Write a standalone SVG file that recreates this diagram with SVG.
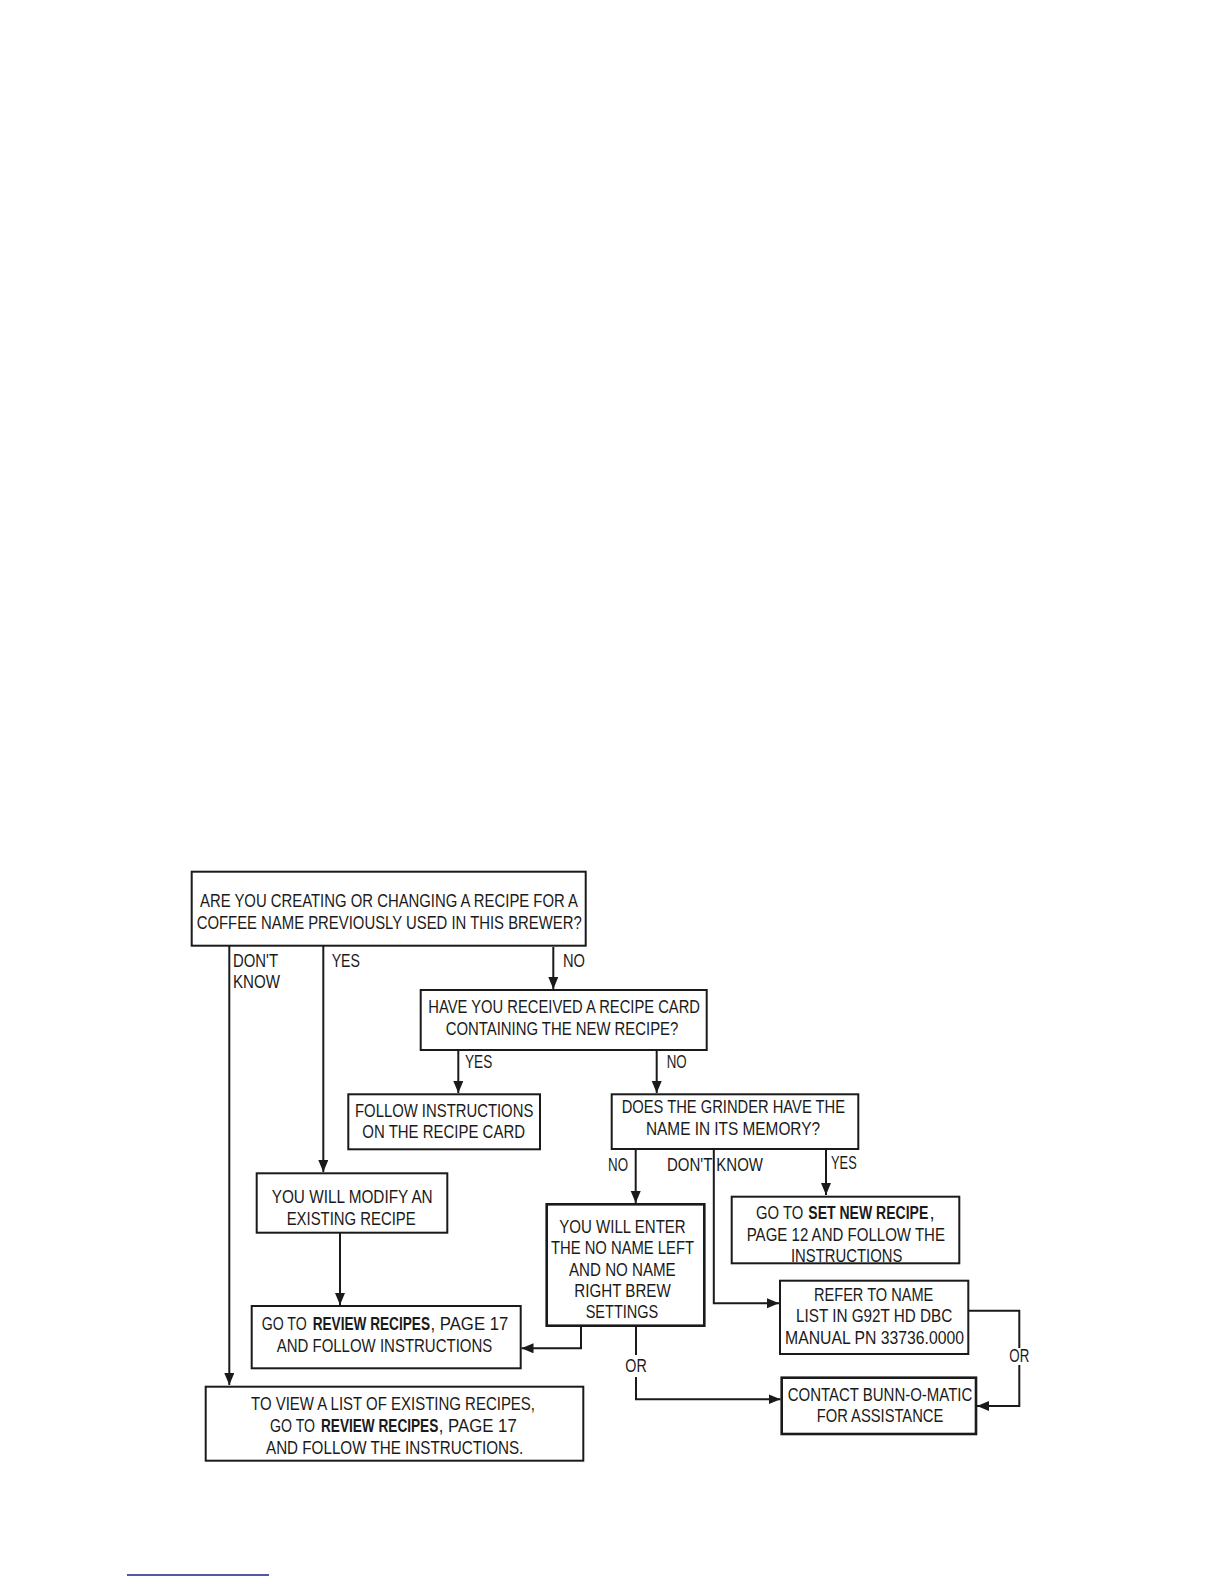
<svg xmlns="http://www.w3.org/2000/svg" width="1224" height="1584" viewBox="0 0 1224 1584">
<style>
text{font-family:"Liberation Sans Narrow","Liberation Sans",Arial,sans-serif;font-size:18.5px;fill:#1a1a1a}
.b{font-weight:bold}
.box{fill:#fff;stroke:#1a1a1a;stroke-width:2}
.thick{stroke-width:2.6}
.c{fill:none;stroke:#1a1a1a;stroke-width:2}
</style>
<defs>
<marker id="ah" markerUnits="userSpaceOnUse" markerWidth="14" markerHeight="12" refX="12" refY="5" orient="auto">
<path d="M0,0 L12,5 L0,10 Z" fill="#1a1a1a"/>
</marker>
</defs>
<rect width="1224" height="1584" fill="#fff"/>

<g id="connectors">
<path class="c" d="M229.3,945.7 V1385" marker-end="url(#ah)"/>
<path class="c" d="M323.3,945.7 V1172" marker-end="url(#ah)"/>
<path class="c" d="M553.3,947 V989" marker-end="url(#ah)"/>
<path class="c" d="M458.3,1050 V1093" marker-end="url(#ah)"/>
<path class="c" d="M656.7,1050 V1093" marker-end="url(#ah)"/>
<path class="c" d="M635.7,1149 V1203" marker-end="url(#ah)"/>
<path class="c" d="M826,1149 V1195" marker-end="url(#ah)"/>
<path class="c" d="M713.8,1149 V1303.3 H779" marker-end="url(#ah)"/>
<path class="c" d="M340,1232.7 V1305" marker-end="url(#ah)"/>
<path class="c" d="M581,1325.7 V1348.3 H521.5" marker-end="url(#ah)"/>
<path class="c" d="M636,1325.7 V1355"/>
<path class="c" d="M636,1377 V1399.3 H780.5" marker-end="url(#ah)"/>
<path class="c" d="M968.3,1310.7 H1019.3 V1348"/>
<path class="c" d="M1019.3,1365 V1406 H977" marker-end="url(#ah)"/>
<text x="233" y="966.7" textLength="45" lengthAdjust="spacingAndGlyphs">DON'T</text>
<text x="233" y="987.7" textLength="47" lengthAdjust="spacingAndGlyphs">KNOW</text>
<text x="331.7" y="967" textLength="28.3" lengthAdjust="spacingAndGlyphs">YES</text>
<text x="563" y="966.7" textLength="22" lengthAdjust="spacingAndGlyphs">NO</text>
<text x="465" y="1068.3" textLength="27.3" lengthAdjust="spacingAndGlyphs">YES</text>
<text x="666.7" y="1068.3" textLength="20" lengthAdjust="spacingAndGlyphs">NO</text>
<text x="608" y="1170.5" textLength="20" lengthAdjust="spacingAndGlyphs">NO</text>
<text x="667" y="1171" textLength="96" lengthAdjust="spacingAndGlyphs">DON'T KNOW</text>
<text x="831" y="1169" textLength="25.7" lengthAdjust="spacingAndGlyphs">YES</text>
<text x="625.3" y="1372.3" textLength="21.4" lengthAdjust="spacingAndGlyphs">OR</text>
<text x="1009.3" y="1361.7" textLength="20" lengthAdjust="spacingAndGlyphs">OR</text>
</g>

<g id="n1">
<rect class="box" x="191.7" y="871.7" width="394" height="74"/>
<text x="200" y="907" textLength="378" lengthAdjust="spacingAndGlyphs">ARE YOU CREATING OR CHANGING A RECIPE FOR A</text>
<text x="196.7" y="928.5" textLength="385" lengthAdjust="spacingAndGlyphs">COFFEE NAME PREVIOUSLY USED IN THIS BREWER?</text>
</g>

<g id="n2">
<rect class="box" x="420.7" y="990" width="286" height="60"/>
<text x="428.3" y="1013.3" textLength="271.7" lengthAdjust="spacingAndGlyphs">HAVE YOU RECEIVED A  RECIPE CARD</text>
<text x="445.7" y="1035" textLength="232.6" lengthAdjust="spacingAndGlyphs">CONTAINING THE NEW RECIPE?</text>
</g>

<g id="n3">
<rect class="box" x="348.3" y="1094.3" width="191.7" height="55"/>
<text x="355" y="1116.7" textLength="178.3" lengthAdjust="spacingAndGlyphs">FOLLOW INSTRUCTIONS</text>
<text x="362.3" y="1138.3" textLength="162.7" lengthAdjust="spacingAndGlyphs">ON THE  RECIPE CARD</text>
</g>

<g id="n4">
<rect class="box" x="611.7" y="1094.3" width="246.6" height="54.7"/>
<text x="621.7" y="1113.3" textLength="223.3" lengthAdjust="spacingAndGlyphs">DOES THE GRINDER HAVE THE</text>
<text x="646" y="1135" textLength="174" lengthAdjust="spacingAndGlyphs">NAME IN ITS MEMORY?</text>
</g>

<g id="n5">
<rect class="box" x="256.7" y="1173.3" width="190.6" height="59.4"/>
<text x="271.7" y="1203.3" textLength="161" lengthAdjust="spacingAndGlyphs">YOU WILL MODIFY AN</text>
<text x="286.7" y="1225" textLength="129" lengthAdjust="spacingAndGlyphs">EXISTING RECIPE</text>
</g>

<g id="n6">
<rect class="box" x="731.7" y="1196.7" width="227.6" height="66.6"/>
<text transform="translate(756 1219) scale(1 1.26)" x="0" y="0" style="font-size:14.68px" textLength="47.3" lengthAdjust="spacingAndGlyphs">GO TO</text>
<text class="b" transform="translate(808.3 1219) scale(1 1.319)" x="0" y="0" style="font-size:14.02px" textLength="120" lengthAdjust="spacingAndGlyphs">SET NEW RECIPE</text>
<text x="929.5" y="1219">,</text>
<text x="746.7" y="1241" textLength="198.3" lengthAdjust="spacingAndGlyphs">PAGE 12  AND FOLLOW THE</text>
<text x="791" y="1262" textLength="111.3" lengthAdjust="spacingAndGlyphs">INSTRUCTIONS</text>
</g>

<g id="n7">
<rect class="box thick" x="546.7" y="1204.3" width="157.6" height="121.4"/>
<text x="559.3" y="1232.7" textLength="126.4" lengthAdjust="spacingAndGlyphs">YOU WILL ENTER</text>
<text x="551" y="1254" textLength="143" lengthAdjust="spacingAndGlyphs">THE NO NAME LEFT</text>
<text x="569" y="1275.7" textLength="106.7" lengthAdjust="spacingAndGlyphs">AND NO NAME</text>
<text x="574.3" y="1296.7" textLength="96.4" lengthAdjust="spacingAndGlyphs">RIGHT BREW</text>
<text x="585.7" y="1318.3" textLength="72.6" lengthAdjust="spacingAndGlyphs">SETTINGS</text>
</g>

<g id="n8">
<rect class="box" x="780" y="1280.7" width="188.3" height="73.3"/>
<text x="814" y="1300.7" textLength="119.3" lengthAdjust="spacingAndGlyphs">REFER TO NAME</text>
<text x="796" y="1322.3" textLength="156.3" lengthAdjust="spacingAndGlyphs">LIST IN G92T HD DBC</text>
<text x="785" y="1344" textLength="179" lengthAdjust="spacingAndGlyphs">MANUAL PN 33736.0000</text>
</g>

<g id="n9">
<rect class="box" x="251.7" y="1306" width="269" height="62.3"/>
<text transform="translate(261.7 1330) scale(1 1.325)" x="0" y="0" style="font-size:13.96px" textLength="45" lengthAdjust="spacingAndGlyphs">GO TO</text>
<text class="b" transform="translate(312.7 1330) scale(1 1.412)" x="0" y="0" style="font-size:13.1px" textLength="117.3" lengthAdjust="spacingAndGlyphs">REVIEW RECIPES</text>
<text transform="translate(430.5 1330) scale(1 1.12)" x="0" y="0" style="font-size:16.5px" textLength="77.8" lengthAdjust="spacingAndGlyphs">, PAGE 17</text>
<text x="276.7" y="1351.7" textLength="215.6" lengthAdjust="spacingAndGlyphs">AND FOLLOW INSTRUCTIONS</text>
</g>

<g id="n10">
<rect class="box thick" x="781.7" y="1377.7" width="194.3" height="56.3"/>
<text x="787.7" y="1401" textLength="184.6" lengthAdjust="spacingAndGlyphs">CONTACT BUNN-O-MATIC</text>
<text x="816.7" y="1422.3" textLength="126.6" lengthAdjust="spacingAndGlyphs">FOR ASSISTANCE</text>
</g>

<g id="n11">
<rect class="box" x="205.7" y="1386.7" width="377.6" height="74"/>
<text x="251" y="1409.5" textLength="284" lengthAdjust="spacingAndGlyphs">TO VIEW A LIST OF EXISTING RECIPES,</text>
<text transform="translate(270 1431.5) scale(1 1.325)" x="0" y="0" style="font-size:13.96px" textLength="45" lengthAdjust="spacingAndGlyphs">GO TO</text>
<text class="b" transform="translate(321 1431.5) scale(1 1.412)" x="0" y="0" style="font-size:13.1px" textLength="117.3" lengthAdjust="spacingAndGlyphs">REVIEW RECIPES</text>
<text transform="translate(438.8 1431.5) scale(1 1.12)" x="0" y="0" style="font-size:16.5px" textLength="77.9" lengthAdjust="spacingAndGlyphs">, PAGE 17</text>
<text x="266" y="1454" textLength="257.3" lengthAdjust="spacingAndGlyphs">AND FOLLOW THE INSTRUCTIONS.</text>
</g>

<line x1="127" y1="1575" x2="269" y2="1575" stroke="#1c1c8c" stroke-width="1.5"/>
</svg>
